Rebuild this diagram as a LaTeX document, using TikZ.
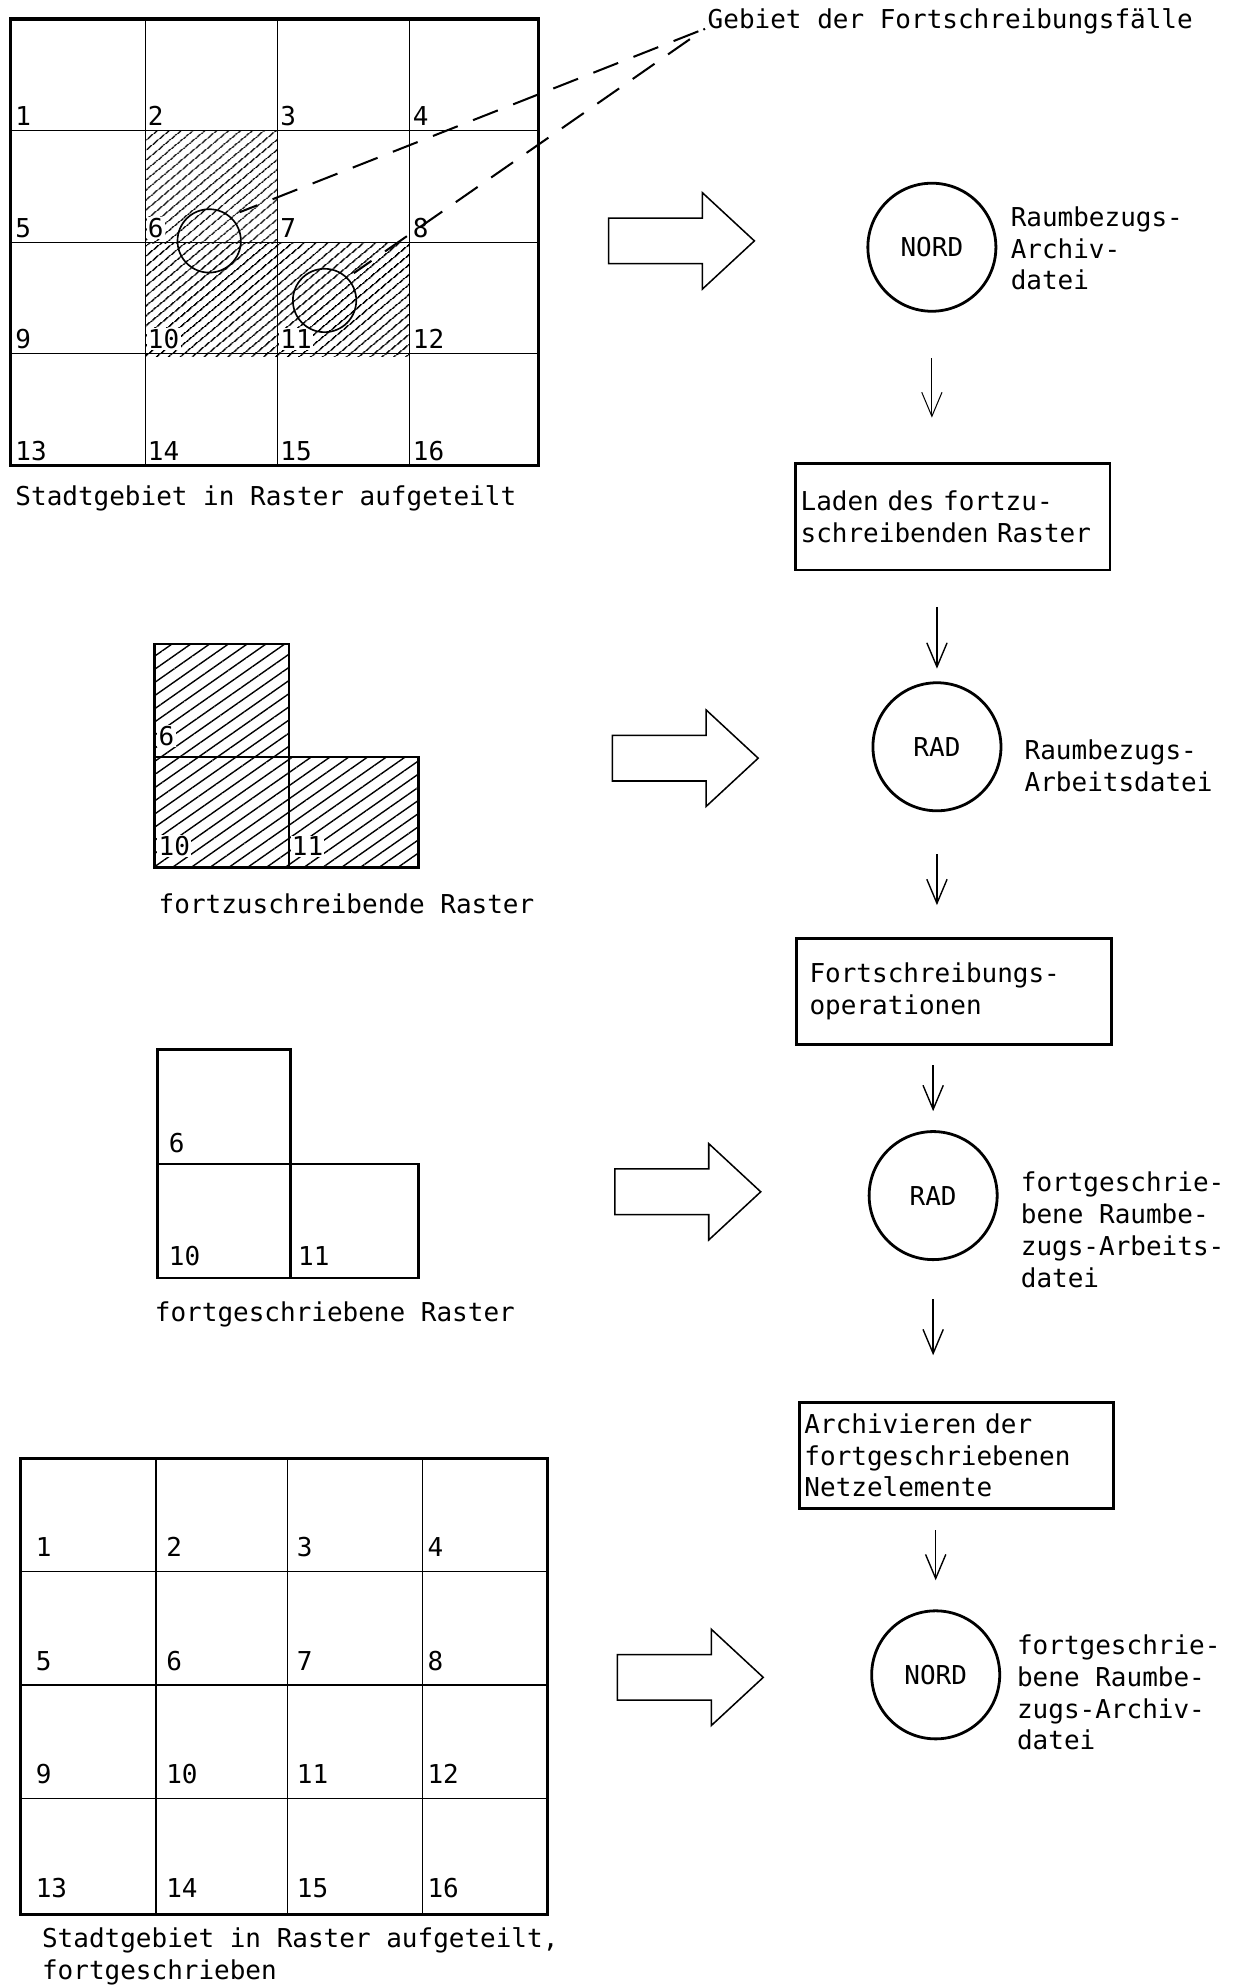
\documentclass[tikz,border=0pt]{standalone}
\usepackage{fontspec}
\setmainfont{DejaVu Sans Mono}
\usetikzlibrary{arrows.meta,calc,patterns.meta,positioning}

\begin{document}
\begin{tikzpicture}[x=1pt,y=-1pt,
  every node/.style={font=\fontsize{20.5}{25}\selectfont},
  datei/.style={draw,circle,line width=2.2pt,minimum size=101pt,inner sep=0pt},
  arbeit/.style={draw,line width=2.2pt,minimum height=84pt,text width=240pt,inner xsep=4pt,align=left},
  dlabel/.style={anchor=west,align=left,inner sep=0pt},
  nr/.style={anchor=base west,inner sep=1pt},
  flow/.style={-{Straight Barb[length=19pt,width=16pt]},line width=1.1pt},
  hatch/.style={pattern={Lines[angle=40,distance=6.5pt,line width=1.2pt]}},
  hatchL/.style={pattern={Lines[angle=35,distance=8.5pt,line width=1.1pt]}}]
\useasboundingbox (0,0) rectangle (982,1568);

% Stadtgebiet oben
\fill[hatch] (115,103) rectangle (219,192);
\fill[hatch] (115,192) rectangle (323,281);
\foreach \i/\xv in {1/115,2/219,3/323} {
  \draw[line width=0.9pt] (\xv,15) -- ++(0,352);
  \draw[line width=0.9pt] ($(8,15)+(0,\i*88)$) -- ++(417,0);
}
\draw[line width=2.4pt] (8,15) rectangle (425,367);
\foreach \n [count=\k from 0] in {1,...,16} {
  \pgfmathtruncatemacro{\col}{mod(\k,4)}
  \pgfmathtruncatemacro{\row}{div(\k,4)}
  \node[nr] (a\n) at ($(11,15)+(\col*104.5,\row*88+84)$) {\n};
}
\node[nr,fill=white] at ($(11,15)+(104.5,172)$) {6};
\node[nr,fill=white] at ($(11,15)+(104.5,260)$) {10};
\node[nr,fill=white] at ($(11,15)+(209,260)$) {11};
\node[draw,circle,line width=1.3pt,minimum size=50pt,inner sep=0pt] (kreisA) at (165,190) {};
\node[draw,circle,line width=1.3pt,minimum size=50pt,inner sep=0pt] (kreisB) at (256,237) {};
\node[dlabel,inner sep=2pt] (gebiet) at (556,17) {Gebiet der Fortschreibungsfälle};
\draw[line width=1.6pt,dash pattern=on 21pt off 13pt,dash phase=6pt,shorten <=8pt] (kreisA.50) -- (gebiet.base west);
\draw[line width=1.6pt,dash pattern=on 21pt off 13pt,dash phase=4pt,shorten <=6pt] (kreisB.45) -- (gebiet.base west);
\node[dlabel] (cap1) at (12,393) {Stadtgebiet in Raster aufgeteilt};

% fortzuschreibende Raster
\fill[hatchL] (122,508) -- (228,508) -- (228,597) -- (330,597) -- (330,684) -- (122,684) -- cycle;
\draw[line width=2.2pt] (122,508) -- (228,508) -- (228,597) -- (330,597) -- (330,684) -- (122,684) -- cycle;
\draw[line width=2.2pt] (122,597) -- (228,597) -- (228,684);
\node[nr,fill=white] at (124,588) {6};
\node[nr,fill=white] at (124,675) {10};
\node[nr,fill=white] at (229,675) {11};
\node[dlabel] (cap2) at (125,713) {fortzuschreibende Raster};

% fortgeschriebene Raster
\draw[line width=2.2pt] (124,828) -- (229,828) -- (229,918) -- (330,918) -- (330,1008) -- (124,1008) -- cycle;
\draw[line width=2.2pt] (124,918) -- (229,918) -- (229,1008);
\node[nr] at (132,909) {6};
\node[nr] at (132,998) {10};
\node[nr] at (234,998) {11};
\node[dlabel] (cap3) at (122,1037) {fortgeschriebene Raster};

% Stadtgebiet unten
\foreach \i/\xv in {1/123,2/227,3/333} {
  \draw[line width=0.9pt] (\xv,1150) -- ++(0,360);
  \draw[line width=0.9pt] ($(16,1150)+(0,\i*89.5)$) -- ++(416,0);
}
\draw[line width=2.4pt] (16,1150) rectangle (432,1510);
\foreach \n [count=\k from 0] in {1,...,16} {
  \pgfmathtruncatemacro{\col}{mod(\k,4)}
  \pgfmathtruncatemacro{\row}{div(\k,4)}
  \node[nr] (b\n) at ($(27,1150)+(\col*103,\row*89.5+78)$) {\n};
}
\node[dlabel] (cap4) at (33,1543) {Stadtgebiet in Raster aufgeteilt,\\fortgeschrieben};

% Pfeile nach rechts
\foreach \x/\y in {480/190,483/598,485/940,487/1323}
  \draw[line width=1.2pt] (\x,\y-18) -- ++(74,0) -- ++(0,-20) -- ++(41,38) -- ++(-41,38) -- ++(0,-20) -- ++(-74,0) -- cycle;

% Dateien und Arbeitsschritte
\node[datei] (nord1) at (735,195) {NORD};
\node[dlabel] (t1) at (797,196) {Raumbezugs-\\Archiv-\\datei};
\node[arbeit] (laden) at (751.5,407.5) {Laden des fortzu-\\schreibenden Raster};
\node[datei] (rad1) at (739,589) {RAD};
\node[dlabel] (t2) at (808,604) {Raumbezugs-\\Arbeitsdatei};
\node[arbeit,text width=228pt,inner xsep=10pt] (fortop) at (752.5,782) {Fortschreibungs-\\operationen};
\node[datei] (rad2) at (736,943) {RAD};
\node[dlabel] (t3) at (805,970) {fortgeschrie-\\bene Raumbe-\\zugs-Arbeits-\\datei};
\node[arbeit] (archiv) at (754.5,1148) {Archivieren der\\fortgeschriebenen\\Netzelemente};
\node[datei] (nord2) at (738,1321) {NORD};
\node[dlabel] (t4) at (802,1335) {fortgeschrie-\\bene Raumbe-\\zugs-Archiv-\\datei};

\draw[flow,line width=0.8pt,shorten <=36pt,shorten >=35pt] (nord1.south) -- (nord1 |- laden.north);
\draw[flow,shorten <=28pt,shorten >=10pt] (rad1 |- laden.south) -- (rad1.north);
\draw[flow,shorten <=33pt,shorten >=25pt] (rad1.south) -- (rad1 |- fortop.north);
\draw[flow,shorten <=15pt,shorten >=15pt] (rad2 |- fortop.south) -- (rad2.north);
\draw[flow,shorten <=30pt,shorten >=36pt] (rad2.south) -- (rad2 |- archiv.north);
\draw[flow,shorten <=16pt,shorten >=23pt] (nord2 |- archiv.south) -- (nord2.north);
\end{tikzpicture}
\end{document}
